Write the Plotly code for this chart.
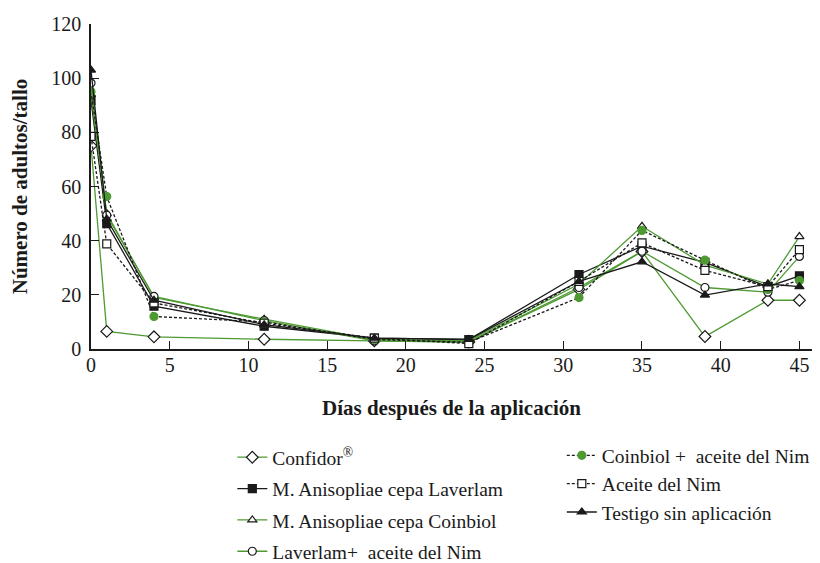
import plotly.graph_objects as go

dias = [0, 1, 4, 11, 18, 24, 31, 35, 39, 43, 45]

confidor = [75, 6.5, 4.5, 3.6, 3.0, 2.6, 22, 36, 4.6, 18, 18]
laverlam = [91.8, 46.3, 15.8, 8.4, 4.0, 3.5, 27.5, 38, 32, 23, 27]
coinbiol = [94, 50, 19, 11, 3.5, 3.0, 24, 45.3, 31, 24, 41.5]
laverlam_nim = [98.2, 49.4, 19.4, 10.5, 3.0, 2.5, 22.7, 36.1, 22.7, 21, 34.2]
coinbiol_nim = [95, 56.3, 12, 10, 3.5, 2.5, 19, 43.8, 32.8, 22, 25.3]
aceite_nim = [78.5, 38.8, 17, 9.5, 4.0, 2.0, 25, 39.2, 29, 23, 36.7]
testigo = [103, 48, 18, 9, 4.0, 3.5, 25, 32.2, 19.9, 24, 23]

GREEN = "#4e9a32"
BLACK = "#1a1a1a"
FONT = "Times New Roman"

series = [
    ("Confidor<sup>®</sup>", confidor, GREEN, "solid", "diamond", "white", "legend"),
    ("M. Anisopliae cepa Laverlam", laverlam, BLACK, "solid", "square", BLACK, "legend"),
    ("M. Anisopliae cepa Coinbiol", coinbiol, GREEN, "solid", "triangle-up", "white", "legend"),
    ("Laverlam+  aceite del Nim", laverlam_nim, GREEN, "solid", "circle", "white", "legend"),
    ("Coinbiol +  aceite del Nim", coinbiol_nim, BLACK, "3px,2px", "circle", GREEN, "legend2"),
    ("Aceite del Nim", aceite_nim, BLACK, "3px,2px", "square", "white", "legend2"),
    ("Testigo sin aplicación", testigo, BLACK, "solid", "triangle-up", BLACK, "legend2"),
]

fig = go.Figure()
for i, (name, vals, lc, dash, sym, fill, leg) in enumerate(series):
    mline = GREEN if fill == GREEN else BLACK
    fig.add_trace(go.Scatter(
        x=dias, y=vals, name=name, mode="lines+markers",
        line=dict(color=lc, width=1.3, dash=dash),
        marker=dict(symbol=sym, size=8 if sym != "diamond" else 9,
                    color=fill, line=dict(color=mline, width=1.2)),
        legend=leg, legendgroup=str(i),
    ))

fig.update_layout(
    width=820, height=563,
    margin=dict(l=91, r=8, t=24, b=214, autoexpand=False),
    paper_bgcolor="white", plot_bgcolor="white",
    font=dict(family=FONT, size=20, color=BLACK),
    showlegend=True,
    xaxis=dict(
        range=[0, 45.8], tickvals=[0, 5, 10, 15, 20, 25, 30, 35, 40, 45],
        ticks="inside", ticklen=8, tickwidth=1.3, tickcolor=BLACK,
        showline=True, linecolor=BLACK, linewidth=1.5,
        showgrid=False, zeroline=False, automargin=False,
        ticklabelstandoff=-3,
        title=dict(text="<b>Días después de la aplicación</b>", font=dict(size=21), standoff=26),
        tickfont=dict(size=20),
    ),
    yaxis=dict(
        range=[0, 120], tickvals=[0, 20, 40, 60, 80, 100, 120],
        ticks="inside", ticklen=8, tickwidth=1.3, tickcolor=BLACK,
        showline=True, linecolor=BLACK, linewidth=1.5,
        showgrid=False, zeroline=False, automargin=False,
        ticklabelstandoff=4,
        title=dict(text="<b>Número de adultos/tallo</b>", font=dict(size=21), standoff=18),
        tickfont=dict(size=20),
    ),
    legend=dict(x=0.196, y=-0.274, xanchor="left", yanchor="top",
                font=dict(size=19.5), tracegroupgap=3, bgcolor="rgba(0,0,0,0)"),
    legend2=dict(x=0.653, y=-0.268, xanchor="left", yanchor="top",
                 font=dict(size=19.5), tracegroupgap=0, bgcolor="rgba(0,0,0,0)"),
)

fig.write_html("out.html", config={"displayModeBar": False},
               post_script="document.body.style.margin='0';")
